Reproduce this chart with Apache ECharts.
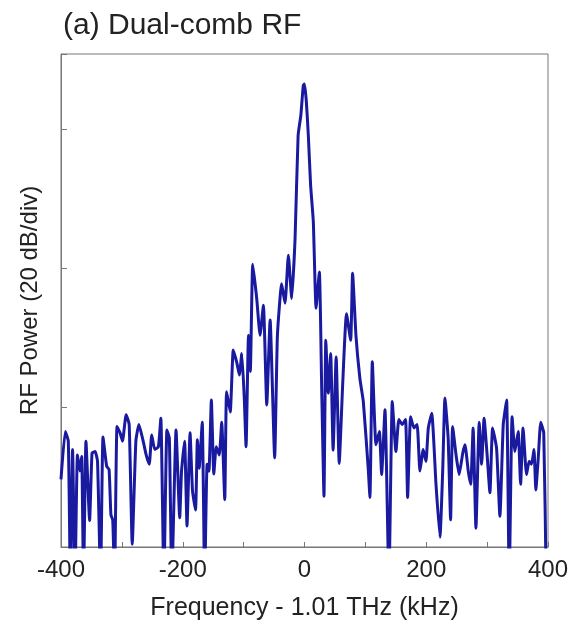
<!DOCTYPE html>
<html>
<head>
<meta charset="utf-8">
<script src="https://cdn.jsdelivr.net/npm/echarts@6/dist/echarts.min.js"></script>
<style>html,body{margin:0;padding:0;background:#fff;}#c{width:573px;height:626px;}</style>
</head>
<body>
<div id="c"></div>
<script>
const title = '(a) Dual-comb RF';
const xName = 'Frequency - 1.01 THz (kHz)';
const yName = 'RF Power (20 dB/div)';
const xTicks = [-400, -200, 0, 200, 400];

const freqKHz = [
-400,-393,-388,-384.6,-381,-377,-373,-369,-366,-363,-359,-353,-349,-344,-340,-335,-331,-325,-321,-318,-315,-312,
-308,-303,-299,-293,-288,-283,-277,-272,-265,-260,-255,-251,-246,-240,-236,-231,-226,-222,-218,-211,-205,-202,
-197,-193,-188,-184,-179,-176,-173,-168,-164,-160,-157,-153,-149,-145,-140,-136,-131,-128,-122,-117,-111,-107,
-103,-99,-96,-92,-89,-85,-78.5,-73,-67.5,-62,-56.5,-49,-44.5,-37.5,-32,-26.5,-21,-15.5,-10.5,-6,-2,0,
3,6.3,10,14.5,19,24.4,28.2,32,35,39,43,47,52,57,62.7,69,75.8,79,84.5,91,96.6,104.8,107.5,111.4,117.4,123,
126.7,132.2,138.7,144.2,150.2,155,160.6,166,169.4,174.3,179.8,185,189.6,195,199.5,203.4,209,216,222.5,227,
230.7,236,240,243.3,249,254,260,263.6,269,273,277,281.6,287,291,295,300,304.6,309,315.5,321,326.5,332,336.3,
341,345.6,351,355,359,364.7,369,373,377,380,384,388,393,397,400.4
];
const powerDB = [
9.7,16.6,15.2,-5,14.0,-5,13.2,10.9,13.0,-5,15.2,3.8,13.5,13.7,12.3,-5,15.8,11.6,11.1,4.6,3.9,-5,
17.3,16.4,15.2,19.0,17.6,0.4,15.2,17.6,15.2,13.2,11.9,16.1,14.0,14.4,18.5,-5,16.8,15.6,-5,16.8,4.2,10.9,
15.2,3.0,16.4,8.1,5.3,15.4,11.3,17.9,-5,11.9,10.9,21.1,10.5,14.4,13.2,17.9,6.8,22.3,19.4,28.3,26.4,24.7,
27.8,21.5,14.4,30.4,25.2,40.6,35.7,30.4,34.7,20.4,32.6,12.8,30.4,37.8,35.0,41.9,35.7,44.3,59.1,62,66.3,66.5,
64,59.1,52,46.7,34.3,39.5,23.0,7.3,29.7,22.1,27.8,13.9,27.3,12.0,23.3,33.5,29.7,39.3,30.4,24.2,20.9,11.1,7.1,26.6,14.7,
16.6,10.4,19.7,-5,20.9,13.7,18.3,17.6,18.3,7.1,18.7,17.1,17.6,10.9,14.0,12.3,17.1,19.2,9.0,1.4,
10.9,21.4,15.6,3.9,17.3,13.2,10.4,13.5,14.7,10.9,9.0,17.1,2.7,17.9,11.9,18.5,13.2,7.8,17.1,14.2,4.4,17.6,21.1,
-5,18.7,13.7,16.6,9.0,17.1,10.4,12.3,11.9,14.0,8.2,12.8,17.9,16.4,-5
];

const chart = echarts.init(document.getElementById('c'), null, {renderer: 'canvas'});
const lineData = freqKHz.map((f, i) => [f, powerDB[i]]);
const fontFam = 'Liberation Sans, Arial, sans-serif';
chart.setOption({
  animation: false,
  backgroundColor: '#fff',
  title: {
    text: title, left: 58, top: 6,
    textStyle: {fontFamily: fontFam, fontSize: 30, fontWeight: 'normal', color: '#222'}
  },
  grid: {left: 61, right: 25, top: 54, bottom: 77, show: true, borderColor: '#777', borderWidth: 1},
  xAxis: {
    type: 'value', min: -400, max: 400, interval: 100,
    name: xName, nameLocation: 'middle', nameGap: 49,
    nameTextStyle: {fontFamily: fontFam, fontSize: 25, color: '#222'},
    axisLine: {show: true, onZero: false, lineStyle: {color: '#777'}},
    axisTick: {show: true, inside: true, length: 5, lineStyle: {color: '#777'}},
    axisLabel: {fontFamily: fontFam, fontSize: 24, color: '#222', margin: 11,
      formatter: v => xTicks.includes(v) ? String(v) : ''},
    splitLine: {show: false}
  },
  yAxis: {
    type: 'value', min: 0, max: 70.8, interval: 20,
    name: yName, nameLocation: 'middle', nameGap: 19, nameRotate: 90,
    nameTextStyle: {fontFamily: fontFam, fontSize: 24, color: '#222'},
    axisLine: {show: true, onZero: false, lineStyle: {color: '#777'}},
    axisTick: {show: true, inside: true, length: 6, lineStyle: {color: '#777'}},
    axisLabel: {show: false},
    splitLine: {show: false}
  },
  series: [{
    type: 'line', data: lineData, showSymbol: false, smooth: 0.15, clip: true,
    lineStyle: {color: '#1a1aa0', width: 3}
  }]
});
</script>
</body>
</html>
